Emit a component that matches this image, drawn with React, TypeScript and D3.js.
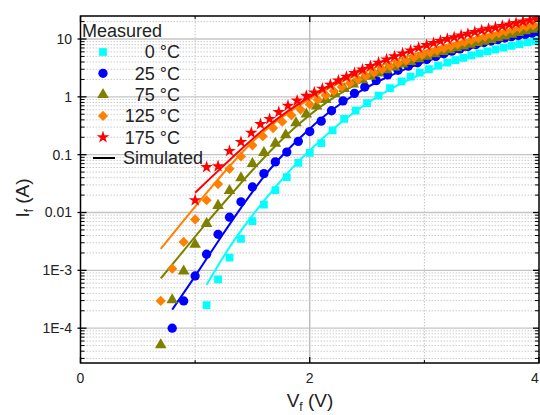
import React from "react";
import * as d3 from "d3";

// ---------- data ----------
const seriesLabels = ["0 °C", "25 °C", "75 °C", "125 °C", "175 °C"];
const seriesColors = ["#00FFFF", "#0000FF", "#808000", "#FF8000", "#FF0000"];

// measured: forward voltage (V) and forward current (A)
const measV0 = [1.1, 1.2, 1.3, 1.4, 1.5, 1.6, 1.7, 1.8, 1.9, 2.0, 2.1, 2.2, 2.3, 2.4, 2.5, 2.6, 2.7, 2.8, 2.88, 2.96, 3.04, 3.12, 3.2, 3.27, 3.34, 3.41, 3.48, 3.55, 3.62, 3.69, 3.76, 3.83, 3.9, 3.97];
const measI0 = [2.5e-4, 7e-4, 1.66e-3, 3.5e-3, 7.1e-3, 0.0137, 0.0243, 0.041, 0.072, 0.107, 0.158, 0.263, 0.417, 0.575, 0.776, 1.05, 1.41, 1.86, 2.24, 2.63, 3.02, 3.47, 3.89, 4.32, 4.73, 5.19, 5.62, 6.1, 6.61, 7.08, 7.59, 8.13, 8.71, 9.23];

const measV25 = [0.8, 0.9, 1.0, 1.1, 1.2, 1.3, 1.4, 1.5, 1.6, 1.7, 1.8, 1.9, 2.0, 2.1, 2.19, 2.29, 2.39, 2.48, 2.58, 2.68, 2.77, 2.86, 2.94, 3.02, 3.1, 3.17, 3.24, 3.31, 3.38, 3.45, 3.52, 3.58, 3.64, 3.7, 3.76, 3.82, 3.88, 3.94, 4.0];
const measI25 = [1e-4, 2.96e-4, 8e-4, 1.9e-3, 4.2e-3, 8.3e-3, 0.0153, 0.0277, 0.047, 0.075, 0.111, 0.17, 0.251, 0.38, 0.575, 0.851, 1.15, 1.48, 1.91, 2.4, 2.88, 3.39, 3.89, 4.42, 5.01, 5.56, 6.17, 6.76, 7.41, 8.04, 8.71, 9.23, 9.77, 10.4, 11.0, 11.5, 12.0, 12.6, 13.2];

const measV75 = [0.7, 0.8, 0.9, 1.0, 1.1, 1.2, 1.3, 1.4, 1.5, 1.6, 1.7, 1.79, 1.88, 1.97, 2.06, 2.14, 2.22, 2.3, 2.38, 2.46, 2.53, 2.6, 2.67, 2.74, 2.81, 2.88, 2.95, 3.02, 3.09, 3.16, 3.22, 3.28, 3.34, 3.4, 3.46, 3.52, 3.58, 3.64, 3.7, 3.76, 3.82, 3.88, 3.94, 4.0];
const measI75 = [5.15e-5, 3.08e-4, 9.7e-4, 2.8e-3, 6.4e-3, 0.0132, 0.0239, 0.0396, 0.07, 0.108, 0.157, 0.219, 0.355, 0.5, 0.69, 0.89, 1.12, 1.38, 1.66, 1.97, 2.26, 2.57, 2.92, 3.27, 3.67, 4.07, 4.52, 5.01, 5.5, 6.03, 6.46, 7.0, 7.5, 8.04, 8.61, 9.12, 9.77, 10.5, 11.2, 12.0, 12.9, 13.8, 14.6, 15.5];

const measV125 = [0.7, 0.8, 0.9, 1.0, 1.1, 1.2, 1.3, 1.4, 1.5, 1.59, 1.68, 1.76, 1.84, 1.92, 2.0, 2.07, 2.14, 2.21, 2.28, 2.35, 2.42, 2.49, 2.56, 2.63, 2.7, 2.77, 2.84, 2.91, 2.98, 3.05, 3.11, 3.17, 3.23, 3.29, 3.35, 3.41, 3.47, 3.53, 3.59, 3.65, 3.71, 3.77, 3.83, 3.89, 3.95];
const measI125 = [2.96e-4, 1.07e-3, 3.1e-3, 7.6e-3, 0.0163, 0.031, 0.057, 0.093, 0.145, 0.209, 0.288, 0.372, 0.479, 0.603, 0.741, 0.891, 1.07, 1.26, 1.48, 1.72, 2.0, 2.29, 2.63, 2.99, 3.39, 3.8, 4.27, 4.79, 5.31, 5.89, 6.38, 6.92, 7.5, 8.13, 8.81, 9.55, 10.2, 11.0, 11.7, 12.6, 13.5, 14.5, 15.5, 16.4, 17.4];

const measV175 = [1.0, 1.1, 1.2, 1.3, 1.4, 1.49, 1.57, 1.65, 1.73, 1.81, 1.89, 1.97, 2.04, 2.11, 2.18, 2.25, 2.32, 2.39, 2.46, 2.53, 2.6, 2.67, 2.74, 2.81, 2.88, 2.95, 3.02, 3.08, 3.14, 3.2, 3.26, 3.32, 3.38, 3.44, 3.5, 3.56, 3.62, 3.68, 3.74, 3.8, 3.86, 3.92, 3.98];
const measI175 = [0.0163, 0.061, 0.063, 0.116, 0.166, 0.239, 0.338, 0.413, 0.545, 0.7, 0.86, 1.04, 1.19, 1.38, 1.62, 1.91, 2.21, 2.57, 2.95, 3.39, 3.89, 4.42, 5.01, 5.62, 6.31, 7.08, 7.85, 8.51, 9.23, 10.0, 10.7, 11.5, 12.3, 13.2, 14.1, 15.0, 15.8, 16.8, 17.8, 18.8, 20.0, 21.1, 22.4];

// simulated
const simV0 = [1.1, 1.3, 1.5, 1.7, 1.9, 2.1, 2.3, 2.5, 2.7, 2.9, 3.1, 3.3, 3.5, 3.7, 3.9, 4.0];
const simI0 = [5.62e-4, 2.51e-3, 8.91e-3, 0.0275, 0.0759, 0.182, 0.398, 0.776, 1.35, 2.14, 3.16, 4.37, 5.75, 7.24, 8.91, 9.77];
const simV25 = [0.8, 1.0, 1.2, 1.4, 1.6, 1.8, 2.0, 2.2, 2.4, 2.6, 2.8, 3.0, 3.2, 3.4, 3.6, 3.8, 4.0];
const simI25 = [2.09e-4, 7.94e-4, 3.16e-3, 0.012, 0.0417, 0.117, 0.282, 0.603, 1.12, 1.86, 2.82, 3.98, 5.37, 6.92, 8.71, 10.5, 12.6];
const simV75 = [0.7, 0.9, 1.1, 1.3, 1.5, 1.7, 1.9, 2.1, 2.3, 2.5, 2.7, 2.9, 3.1, 3.3, 3.5, 3.7, 3.9, 4.0];
const simI75 = [7.24e-4, 2.19e-3, 6.61e-3, 0.0191, 0.0537, 0.141, 0.331, 0.692, 1.26, 2.04, 3.02, 4.27, 5.75, 7.41, 9.33, 11.5, 13.8, 15.1];
const simV125 = [0.7, 0.9, 1.1, 1.3, 1.5, 1.7, 1.9, 2.1, 2.3, 2.5, 2.7, 2.9, 3.1, 3.3, 3.5, 3.7, 3.9, 4.0];
const simI125 = [2.34e-3, 7.24e-3, 0.0219, 0.0631, 0.166, 0.363, 0.692, 1.2, 1.91, 2.82, 3.98, 5.37, 7.08, 8.91, 11.2, 13.8, 16.6, 18.2];
const simV175 = [1.0, 1.2, 1.4, 1.6, 1.8, 2.0, 2.2, 2.4, 2.6, 2.8, 3.0, 3.2, 3.4, 3.6, 3.8, 4.0];
const simI175 = [0.0219, 0.0525, 0.123, 0.275, 0.55, 1.0, 1.7, 2.69, 3.89, 5.5, 7.59, 10.0, 12.6, 15.5, 19.1, 22.9];

const xTickValues = [0, 2, 4];
const xTickLabels = ["0", "2", "4"];
const yTickValues = [10, 1, 0.1, 0.01, 1e-3, 1e-4];
const yTickLabels = ["10", "1", "0.1", "0.01", "1E-3", "1E-4"];

const measV = [measV0, measV25, measV75, measV125, measV175];
const measI = [measI0, measI25, measI75, measI125, measI175];
const simV = [simV0, simV25, simV75, simV125, simV175];
const simI = [simI0, simI25, simI75, simI125, simI175];

const FONT = "'Liberation Sans', Arial, sans-serif";

const W = 540, H = 415;
const L = 80.5, R = 539, T = 16, B = 363;

function markerPath(k: number): { d: string; rot: number } {
  const types = [d3.symbolSquare, d3.symbolCircle, d3.symbolTriangle, d3.symbolSquare, d3.symbolStar];
  const sizes = [60, 68, 58, 52, 50];
  const d = d3.symbol().type(types[k]).size(sizes[k])() as string;
  return { d, rot: k === 3 ? 45 : 0 };
}

export default function App() {
  const x = d3.scaleLinear().domain([0, 4]).range([L, R]);
  const y = d3.scaleLog().domain([2.5e-5, 25]).range([B, T]);

  const minorY: number[] = [];
  for (let e = -5; e <= 1; e++) {
    for (let m = 2; m <= 9; m++) {
      const v = m * Math.pow(10, e);
      if (v > 2.5e-5 && v < 25) minorY.push(v);
    }
  }
  const minorX = [1, 3];

  const line = d3
    .line<[number, number]>()
    .x((d) => x(d[0]))
    .y((d) => y(d[1]))
    .curve(d3.curveMonotoneX);

  const order = [0, 1, 2, 3, 4];
  const xLabelPos = (v: number) => Math.min(x(v), 535);

  return (
    <svg width={W} height={H} style={{ position: "absolute", left: 0, top: 0, background: "#fff" }} fontFamily={FONT}>
      <defs>
        <clipPath id="plotclip">
          <rect x={L} y={T} width={R - L} height={B - T} />
        </clipPath>
      </defs>
      <rect x={0} y={0} width={W} height={H} fill="#fff" />

      {/* minor grid */}
      {minorY.map((v, i) => (
        <line key={"my" + i} x1={L} x2={R} y1={y(v)} y2={y(v)} stroke="#cccccc" strokeWidth={1} strokeDasharray="1.5,1.5" />
      ))}
      {minorX.map((v, i) => (
        <line key={"mx" + i} x1={x(v)} x2={x(v)} y1={T} y2={B} stroke="#c4c4c4" strokeWidth={1} strokeDasharray="1.5,1.5" />
      ))}
      {/* major grid */}
      {yTickValues.map((v, i) => (
        <line key={"gy" + i} x1={L} x2={R} y1={y(v)} y2={y(v)} stroke="#c4c4c4" strokeWidth={1.3} />
      ))}
      <line x1={x(2)} x2={x(2)} y1={T} y2={B} stroke="#b8b8b8" strokeWidth={1.3} />

      {/* simulated lines and measured markers */}
      <g clipPath="url(#plotclip)">
        {order.map((k) => (
          <path
            key={"sim" + k}
            d={line(simV[k].map((v, i) => [v, simI[k][i]] as [number, number])) as string}
            fill="none"
            stroke={seriesColors[k]}
            strokeWidth={2}
          />
        ))}
        {order.map((k) => {
          const m = markerPath(k);
          return (
            <g key={"meas" + k} fill={seriesColors[k]}>
              {measV[k].map((v, i) => (
                <path key={i} d={m.d} transform={`translate(${x(v)},${y(measI[k][i])}) rotate(${m.rot})`} />
              ))}
            </g>
          );
        })}
      </g>

      {/* frame */}
      <rect x={L} y={T} width={R - L} height={B - T} fill="none" stroke="#000" strokeWidth={1.5} />

      {/* y ticks left and right */}
      {yTickValues.map((v, i) => (
        <g key={"yt" + i}>
          <line x1={L - 3} x2={L + 6} y1={y(v)} y2={y(v)} stroke="#000" strokeWidth={1.3} />
          <line x1={R - 6} x2={R} y1={y(v)} y2={y(v)} stroke="#000" strokeWidth={1.3} />
          <text x={72} y={y(v)} dy="0.35em" textAnchor="end" fontSize={14} fill="#222">
            {yTickLabels[i]}
          </text>
        </g>
      ))}
      {minorY.map((v, i) => (
        <g key={"ymt" + i}>
          <line x1={L} x2={L + 4} y1={y(v)} y2={y(v)} stroke="#000" strokeWidth={1} />
          <line x1={R - 4} x2={R} y1={y(v)} y2={y(v)} stroke="#000" strokeWidth={1} />
        </g>
      ))}

      {/* x ticks */}
      {xTickValues.map((v, i) => (
        <g key={"xt" + i}>
          <line x1={x(v)} x2={x(v)} y1={B} y2={B - 6} stroke="#000" strokeWidth={1.3} />
          <line x1={x(v)} x2={x(v)} y1={T} y2={T + 6} stroke="#000" strokeWidth={1.3} />
          <text x={xLabelPos(v)} y={383} textAnchor="middle" fontSize={14} fill="#222">
            {xTickLabels[i]}
          </text>
        </g>
      ))}
      {minorX.map((v, i) => (
        <g key={"xmt" + i}>
          <line x1={x(v)} x2={x(v)} y1={B} y2={B - 3} stroke="#000" strokeWidth={1} />
          <line x1={x(v)} x2={x(v)} y1={T} y2={T + 3} stroke="#000" strokeWidth={1} />
        </g>
      ))}

      {/* axis titles */}
      <text x={310} y={407} textAnchor="middle" fontSize={19} fill="#222">
        V<tspan dy={4} fontSize={12}>f</tspan>
        <tspan dy={-4}> (V)</tspan>
      </text>
      <text transform="translate(29,198) rotate(-90)" textAnchor="middle" fontSize={19} fill="#222">
        I<tspan dy={4} fontSize={12}>f</tspan>
        <tspan dy={-4}> (A)</tspan>
      </text>

      {/* legend */}
      <text x={82} y={37} fontSize={18} fill="#222">
        Measured
      </text>
      {order.map((k) => {
        const m = markerPath(k);
        const cy = 52 + k * 21.3;
        return (
          <g key={"lg" + k}>
            <path d={m.d} fill={seriesColors[k]} transform={`translate(103,${cy}) rotate(${m.rot})`} />
            <text x={180} y={cy} dy="0.36em" textAnchor="end" fontSize={18} fill="#222">
              {seriesLabels[k]}
            </text>
          </g>
        );
      })}
      <line x1={93} x2={115} y1={158} y2={158} stroke="#000" strokeWidth={2} />
      <text x={123} y={158} dy="0.36em" fontSize={18} fill="#222">
        Simulated
      </text>
    </svg>
  );
}
